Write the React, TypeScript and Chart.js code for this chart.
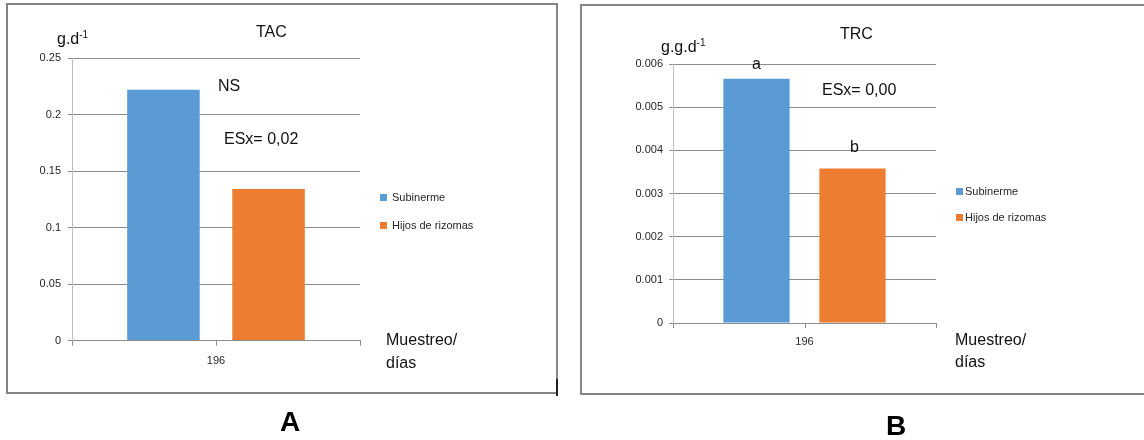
import React, { useEffect, useRef } from 'react';
import { Chart, registerables } from 'chart.js';

Chart.register(...registerables);

// ---- data ----
const categories = ['196'];
const seriesNames = ['Subinerme', 'Hijos de rizomas'];
const tacSubinerme = [0.222];
const tacHijos = [0.134];
const trcSubinerme = [0.00566];
const trcHijos = [0.00358];
const tacTicks = ['0', '0.05', '0.1', '0.15', '0.2', '0.25'];
const trcTicks = ['0', '0.001', '0.002', '0.003', '0.004', '0.005', '0.006'];

const BLUE = '#5B9BD5';
const ORANGE = '#ED7D31';
const FONT = '"Liberation Sans", Arial, sans-serif';

const centerTick = {
  id: 'centerTick',
  afterDraw(chart: any) {
    const x = chart.scales.x;
    const ctx = chart.ctx;
    ctx.save();
    ctx.strokeStyle = '#8c8c8c';
    ctx.lineWidth = 1;
    for (let i = 0; i < x.ticks.length; i++) {
      const px = Math.round(x.getPixelForTick(i)) + 0.5;
      ctx.beginPath();
      ctx.moveTo(px, x.top);
      ctx.lineTo(px, x.top + 5);
      ctx.stroke();
    }
    ctx.restore();
  },
};

function makeConfig(v1: number[], v2: number[], ticks: string[], max: number, step: number, L: any): any {
  return {
    type: 'bar',
    data: {
      labels: categories,
      datasets: [
        { label: seriesNames[0], data: v1, backgroundColor: BLUE, borderWidth: 0, categoryPercentage: 0.73, barPercentage: 0.69 },
        { label: seriesNames[1], data: v2, backgroundColor: ORANGE, borderWidth: 0, categoryPercentage: 0.73, barPercentage: 0.69 },
      ],
    },
    options: {
      responsive: false,
      animation: false,
      devicePixelRatio: 1,
      layout: { padding: { left: 0, top: L.top, right: L.right, bottom: 0 } },
      plugins: { legend: { display: false }, tooltip: { enabled: false } },
      scales: {
        x: {
          grid: { display: true, drawOnChartArea: false, offset: true, tickLength: 5, color: '#8c8c8c' },
          border: { display: true, color: '#8c8c8c' },
          ticks: { font: { family: FONT, size: 11 }, color: '#262626', padding: L.xPad, maxRotation: 0 },
          afterFit: (s: any) => { s.height = L.xHeight; },
        },
        y: {
          min: 0,
          max,
          ticks: {
            stepSize: step,
            callback: (_v: any, i: number) => ticks[i],
            font: { family: FONT, size: 11 },
            color: '#262626',
            padding: L.yPad,
          },
          grid: { color: '#8c8c8c', tickLength: 4 },
          border: { display: true, color: '#c0c0c0' },
          afterFit: (s: any) => { s.width = L.yWidth; },
        },
      },
    },
    plugins: [centerTick],
  };
}

function Txt(props: { x: number; y: number; size?: number; bold?: boolean; color?: string; children: any }) {
  const size = props.size ?? 16;
  return (
    <div
      style={{
        position: 'absolute',
        left: props.x,
        top: props.y - size / 2,
        fontSize: size,
        lineHeight: `${size}px`,
        fontFamily: FONT,
        fontWeight: props.bold ? 'bold' : 'normal',
        color: props.color ?? '#111',
        whiteSpace: 'nowrap',
      }}
    >
      {props.children}
    </div>
  );
}

function Legend({ x, y1, y2, tx }: { x: number; y1: number; y2: number; tx: number }) {
  return (
    <>
      <div style={{ position: 'absolute', left: x, top: y1 - 3.5, width: 7, height: 7, background: BLUE }} />
      <Txt x={tx} y={y1} size={11} color="#262626">{seriesNames[0]}</Txt>
      <div style={{ position: 'absolute', left: x, top: y2 - 3.5, width: 7, height: 7, background: ORANGE }} />
      <Txt x={tx} y={y2} size={11} color="#262626">{seriesNames[1]}</Txt>
    </>
  );
}

export default function App() {
  const refA = useRef<HTMLCanvasElement>(null);
  const refB = useRef<HTMLCanvasElement>(null);

  useEffect(() => {
    const a = new Chart(refA.current!, makeConfig(tacSubinerme, tacHijos, tacTicks, 0.25, 0.05,
      { top: 58, right: 210, xHeight: 99.5, yWidth: 72, xPad: 9, yPad: 7 }));
    const b = new Chart(refB.current!, makeConfig(trcSubinerme, trcHijos, trcTicks, 0.006, 0.001,
      { top: 64, right: 208, xHeight: 117, yWidth: 103, xPad: 7, yPad: 6 }));
    return () => { a.destroy(); b.destroy(); };
  }, []);

  return (
    <div style={{ position: 'absolute', left: 0, top: 0, width: 1144, height: 440, background: '#fff', overflow: 'hidden' }}>
      {/* frames */}
      <div style={{ position: 'absolute', left: 6, top: 3, width: 552, height: 391, border: '2px solid #858585', boxSizing: 'border-box' }} />
      <div style={{ position: 'absolute', left: 556, top: 379, width: 2, height: 17, background: '#222' }} />
      <div style={{ position: 'absolute', left: 580, top: 4, width: 600, height: 391, border: '2px solid #858585', boxSizing: 'border-box' }} />

      <canvas ref={refA} width={570} height={440} style={{ position: 'absolute', left: 0, top: 0, width: 570, height: 440 }} />
      <canvas ref={refB} width={574} height={440} style={{ position: 'absolute', left: 570, top: 0, width: 574, height: 440 }} />

      {/* Panel A texts */}
      <Txt x={57} y={39}>g.d<span style={{ fontSize: 10, position: 'relative', top: -6 }}>-1</span></Txt>
      <Txt x={256} y={32}>TAC</Txt>
      <Txt x={218} y={86}>NS</Txt>
      <Txt x={224} y={139}>ESx= 0,02</Txt>
      <Legend x={380} y1={197} y2={225} tx={392} />
      <Txt x={386} y={340}>Muestreo/</Txt>
      <Txt x={386} y={363}>días</Txt>
      <Txt x={280} y={422} size={28} bold color="#000">A</Txt>

      {/* Panel B texts */}
      <Txt x={661} y={47}>g.g.d<span style={{ fontSize: 10, position: 'relative', top: -6 }}>-1</span></Txt>
      <Txt x={840} y={34}>TRC</Txt>
      <Txt x={752} y={64}>a</Txt>
      <Txt x={822} y={90}>ESx= 0,00</Txt>
      <Txt x={850} y={147}>b</Txt>
      <Legend x={956} y1={191} y2={217} tx={965} />
      <Txt x={955} y={340}>Muestreo/</Txt>
      <Txt x={955} y={362}>días</Txt>
      <Txt x={886} y={426} size={28} bold color="#000">B</Txt>
    </div>
  );
}
